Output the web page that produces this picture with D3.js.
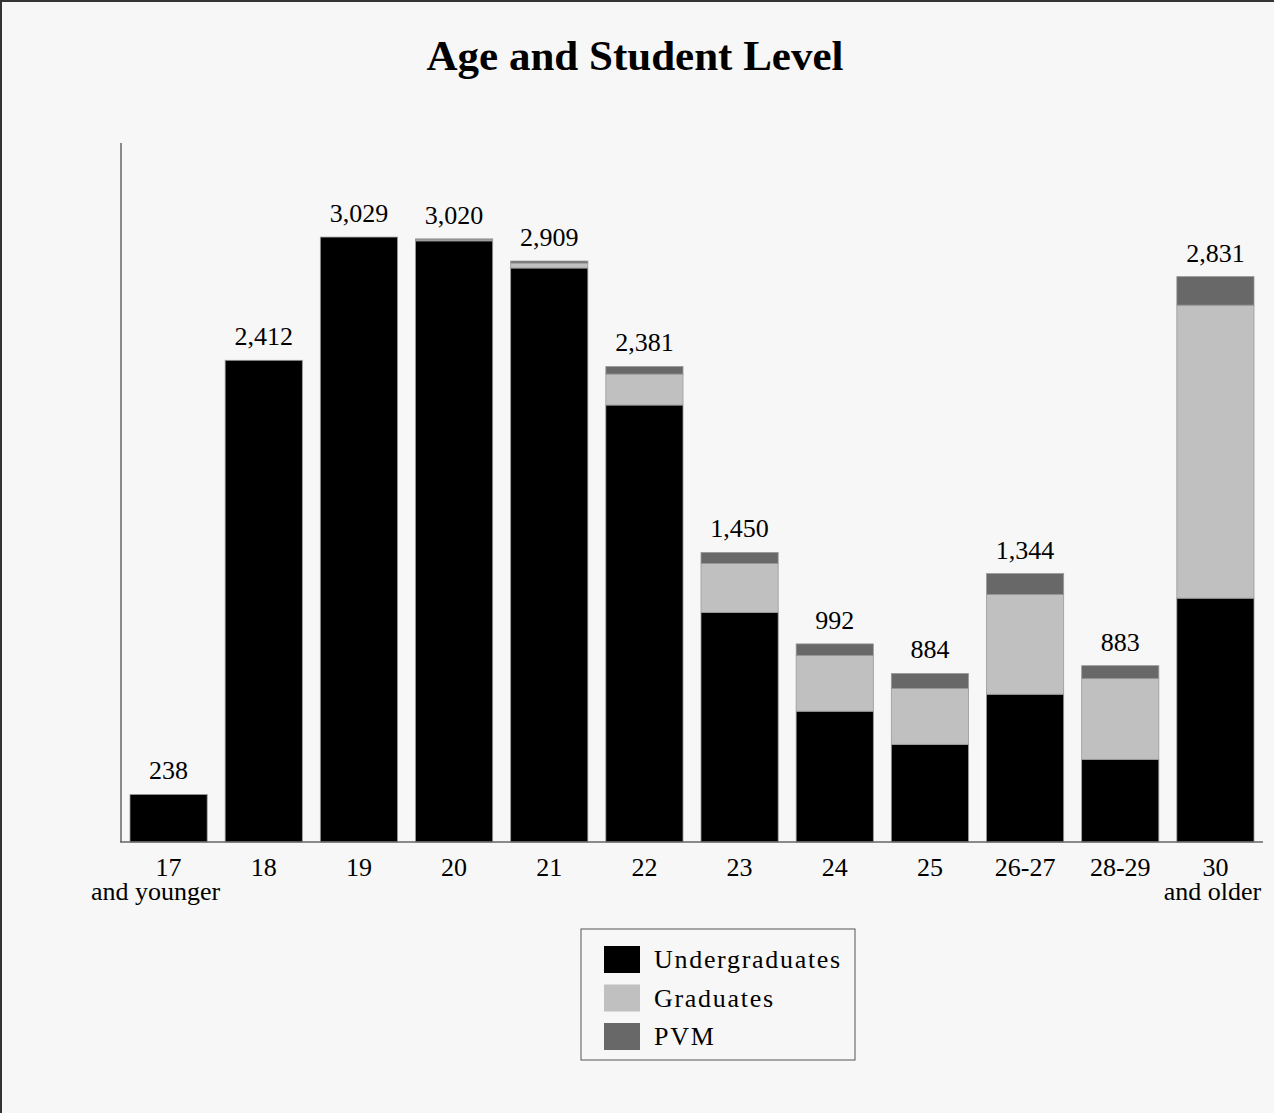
<!DOCTYPE html>
<html>
<head>
<meta charset="utf-8">
<script src="https://cdn.jsdelivr.net/npm/d3@7"></script>
<style>
  html, body { margin: 0; padding: 0; background: #f7f7f7; }
  svg { display: block; }
</style>
</head>
<body>
<script>
const categories = ["17|and younger", "18", "19", "20", "21", "22", "23", "24", "25", "26-27", "28-29", "30|and older"];
const undergraduates = [238, 2412, 3029, 3010, 2874, 2188, 1150, 655, 489, 740, 414, 1221];
const graduates      = [0, 0, 0, 5, 25, 155, 245, 279, 280, 499, 404, 1467];
const pvm            = [0, 0, 0, 5, 10, 38, 55, 58, 75, 105, 65, 143];
const totalLabels = ["238", "2,412", "3,029", "3,020", "2,909", "2,381", "1,450", "992", "884", "1,344", "883", "2,831"];
const seriesNames = ["Undergraduates", "Graduates", "PVM"];
const seriesColors = ["#000000", "#c0c0c0", "#686868"];
const yMax = 3500;

const W = 1274, H = 1113;
const svg = d3.select("body").append("svg").attr("width", W).attr("height", H);

svg.append("rect").attr("x", 0).attr("y", 0).attr("width", W).attr("height", H).attr("fill", "#f7f7f7");
svg.append("line").attr("x1", 0).attr("x2", W).attr("y1", 1).attr("y2", 1).attr("stroke", "#333").attr("stroke-width", 2);
svg.append("line").attr("x1", 1).attr("x2", 1).attr("y1", 0).attr("y2", H).attr("stroke", "#333").attr("stroke-width", 2);

const font = "'Liberation Serif', 'Times New Roman', serif";

svg.append("text").attr("x", 635).attr("y", 70).attr("text-anchor", "middle")
  .attr("font-family", font).attr("font-weight", "bold").attr("font-size", 43)
  .text("Age and Student Level");

const x = d3.scaleBand().domain(categories).range([121, 1263]).paddingInner(0.189).paddingOuter(0.0945);
const y = d3.scaleLinear().domain([0, yMax]).range([842, 143]);

const table = categories.map((c, i) => ({cat: c, Undergraduates: undergraduates[i], Graduates: graduates[i], PVM: pvm[i], label: totalLabels[i]}));
const stack = d3.stack().keys(seriesNames)(table);

svg.append("g").selectAll("g").data(stack).join("g")
  .attr("fill", (d, i) => seriesColors[i])
  .selectAll("rect").data(d => d.filter(s => s[1] - s[0] > 0)).join("rect")
  .attr("x", d => x(d.data.cat))
  .attr("width", x.bandwidth())
  .attr("y", d => y(d[1]))
  .attr("height", d => y(d[0]) - y(d[1]))
  .attr("stroke", "#9a9a9a").attr("stroke-width", 0.8);

// total labels
svg.append("g").selectAll("text").data(table).join("text")
  .attr("x", d => x(d.cat) + x.bandwidth() / 2)
  .attr("y", d => y(d.Undergraduates + d.Graduates + d.PVM) - 15)
  .attr("text-anchor", "middle").attr("font-family", font).attr("font-size", 26)
  .text(d => d.label);

// axes
svg.append("line").attr("x1", 121).attr("x2", 121).attr("y1", y(yMax)).attr("y2", y(0))
  .attr("stroke", "#666").attr("stroke-width", 1.5);
svg.append("line").attr("x1", 120).attr("x2", 1263).attr("y1", y(0)).attr("y2", y(0))
  .attr("stroke", "#666").attr("stroke-width", 1.5);

// x labels
const xl = svg.append("g").selectAll("text").data(categories).join("text")
  .attr("text-anchor", "middle").attr("font-family", font).attr("font-size", 26)
  .attr("transform", d => `translate(${x(d) + x.bandwidth() / 2},876)`);
xl.each(function(d) {
  const parts = d.split("|");
  const t = d3.select(this);
  parts.forEach((p, j) => {
    t.append("tspan").attr("x", j === 1 ? (d.startsWith("17") ? -13 : -3) : 0).attr("dy", j === 0 ? 0 : 24).text(p);
  });
});

// legend
const lg = svg.append("g");
lg.append("rect").attr("x", 581).attr("y", 929).attr("width", 274).attr("height", 131)
  .attr("fill", "#f7f7f7").attr("stroke", "#555").attr("stroke-width", 1);
seriesNames.forEach((s, i) => {
  lg.append("rect").attr("x", 604).attr("y", 946 + i * 38.5).attr("width", 36).attr("height", 27)
    .attr("fill", seriesColors[i]);
  lg.append("text").attr("x", 654).attr("y", 968 + i * 38.5).attr("font-family", font).attr("font-size", 26)
    .attr("letter-spacing", 1.7)
    .text(s);
});
</script>
</body>
</html>
